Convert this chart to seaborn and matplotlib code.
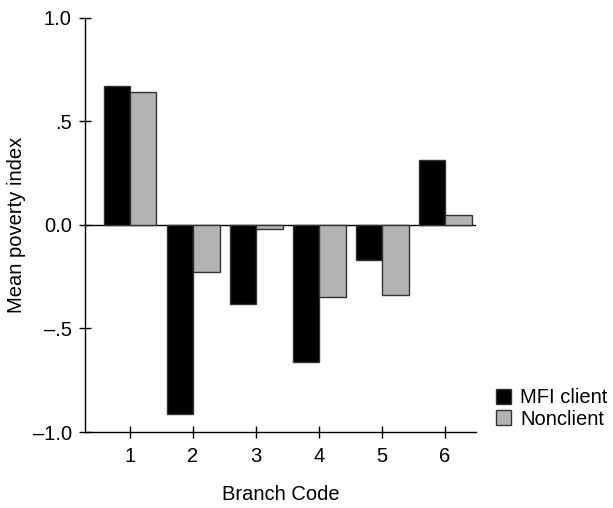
import pandas as pd
import matplotlib
matplotlib.use('Agg')
import matplotlib.pyplot as plt
import seaborn as sns

# values
branches = ['1', '2', '3', '4', '5', '6']
mfi_client = [0.671, -0.913, -0.382, -0.660, -0.169, 0.315]
nonclient = [0.643, -0.226, -0.018, -0.346, -0.338, 0.047]
groups = ['MFI client', 'Nonclient']
ytick_vals = [-1.0, -0.5, 0.0, 0.5, 1.0]
ytick_labels = ['\u20131.0', '\u2013.5', '0.0', '.5', '1.0']

df = pd.DataFrame({
    'branch': branches * 2,
    'group': [groups[0]] * len(branches) + [groups[1]] * len(branches),
    'value': mfi_client + nonclient,
})

sns.set_style('white')
plt.rcParams['font.family'] = ['Liberation Sans', 'DejaVu Sans']
plt.rcParams['text.color'] = 'black'
plt.rcParams['axes.labelcolor'] = 'black'
plt.rcParams['xtick.color'] = 'black'
plt.rcParams['ytick.color'] = 'black'

fs = 14.5

fig = plt.figure(figsize=(6.13, 5.08), dpi=100)
ax = fig.add_axes([0.1387, 0.1496, 0.6378, 0.815])

palette = {'MFI client': '#000000', 'Nonclient': '#b3b3b3'}
sns.barplot(data=df, x='branch', y='value', hue='group', palette=palette,
            width=0.84, edgecolor='#333333', linewidth=1, saturation=1,
            ax=ax)

ax.axhline(0, color='black', linewidth=1, zorder=0)

ax.set_ylim(-1, 1)
ax.set_xlim(-0.714, 5.49)
ax.set_yticks(ytick_vals)
ax.set_yticklabels(ytick_labels)

for s in ['top', 'right']:
    ax.spines[s].set_visible(False)
for s in ['left', 'bottom']:
    ax.spines[s].set_color('black')
    ax.spines[s].set_linewidth(1)

ax.tick_params(axis='both', direction='inout', length=9, width=1,
               color='black', labelsize=fs, left=True, bottom=True)
ax.tick_params(axis='y', pad=5)
ax.tick_params(axis='x', pad=6)

ax.set_xlabel('Branch Code', fontsize=fs, labelpad=14)
ax.set_ylabel('Mean poverty index', fontsize=fs, labelpad=5)

ax.legend(loc='upper left', bbox_to_anchor=(1.03, 0.125), frameon=False,
          fontsize=fs, handlelength=0.75, handleheight=0.75, handletextpad=0.45,
          labelspacing=0.12, borderaxespad=0)

fig.savefig('out.png', dpi=100)
